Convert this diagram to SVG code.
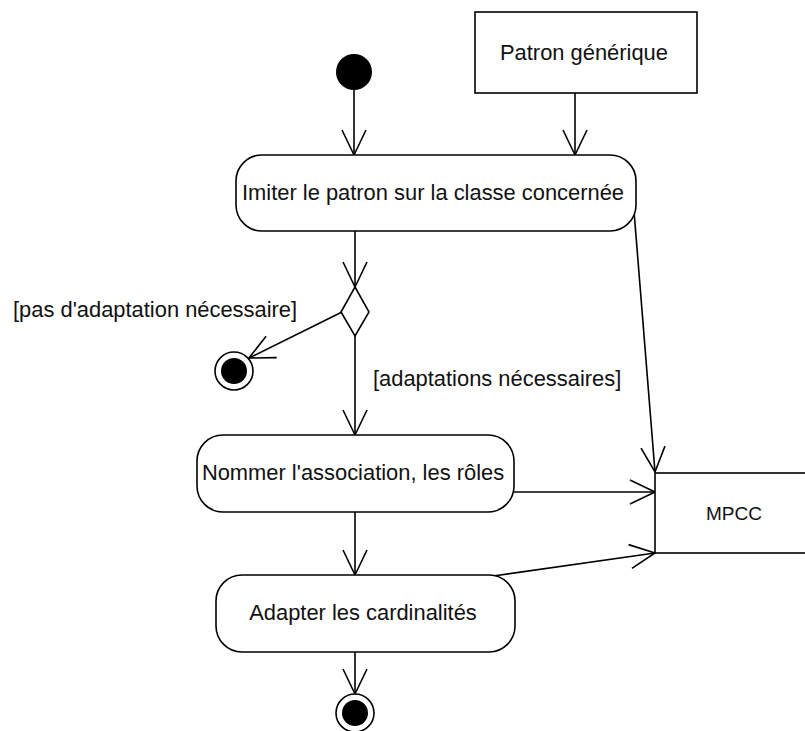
<svg xmlns="http://www.w3.org/2000/svg" width="805" height="731" viewBox="0 0 805 731">
<defs>
<style>
.box{fill:#fff;stroke:#000;stroke-width:1.6}
.lbl{font-family:"Liberation Sans",Arial,sans-serif;font-size:21.9px;fill:#111}
.c{fill:none;stroke:#000;stroke-width:1.6}
</style>
<marker id="arr" viewBox="-27 -15 29 30" markerWidth="29" markerHeight="30" refX="0" refY="0" orient="auto" markerUnits="userSpaceOnUse">
<path d="M-25,-12 L0,0 L-25,12" fill="none" stroke="#000" stroke-width="1.6"/>
</marker>
</defs>
<rect width="805" height="731" fill="#fff"/>
<g id="connectors">
<line class="c" x1="354" y1="90" x2="354" y2="155" marker-end="url(#arr)"/>
<line class="c" x1="575" y1="93" x2="575" y2="155" marker-end="url(#arr)"/>
<line class="c" x1="355" y1="231" x2="355" y2="287" marker-end="url(#arr)"/>
<line class="c" x1="342" y1="312" x2="249" y2="358" marker-end="url(#arr)"/>
<line class="c" x1="355" y1="336" x2="355" y2="435" marker-end="url(#arr)"/>
<line class="c" x1="355" y1="512" x2="355" y2="575" marker-end="url(#arr)"/>
<line class="c" x1="355" y1="652" x2="355" y2="694" marker-end="url(#arr)"/>
<line class="c" x1="634" y1="211" x2="655" y2="472" marker-end="url(#arr)"/>
<line class="c" x1="514" y1="492" x2="655" y2="492" marker-end="url(#arr)"/>
<line class="c" x1="493" y1="576" x2="655" y2="553" marker-end="url(#arr)"/>
</g>
<g id="initial"><circle cx="354" cy="72" r="18" fill="#000"/></g>
<g id="patron"><rect class="box" x="475" y="12" width="222" height="81"/><text class="lbl" x="584" y="60" text-anchor="middle">Patron générique</text></g>
<g id="imiter"><rect class="box" x="236" y="155" width="400" height="76" rx="26" ry="26"/><text class="lbl" x="433" y="200" text-anchor="middle">Imiter le patron sur la classe concernée</text></g>
<g id="decision"><path class="box" d="M355,287 L369,312 L355,336 L341,312 Z"/></g>
<g id="final1"><circle cx="234" cy="371" r="19" class="box"/><circle cx="234" cy="371" r="13" fill="#000"/></g>
<g id="guard1"><text class="lbl" x="13" y="317">[pas d'adaptation nécessaire]</text></g>
<g id="guard2"><text class="lbl" x="373" y="386">[adaptations nécessaires]</text></g>
<g id="nommer"><rect class="box" x="197" y="435" width="317" height="77" rx="26" ry="26"/><text class="lbl" x="353" y="480" text-anchor="middle">Nommer l'association, les rôles</text></g>
<g id="adapter"><rect class="box" x="216" y="575" width="299" height="77" rx="26" ry="26"/><text class="lbl" x="363" y="620" text-anchor="middle">Adapter les cardinalités</text></g>
<g id="final2"><circle cx="355" cy="713" r="19" class="box"/><circle cx="355" cy="713" r="13" fill="#000"/></g>
<g id="mpcc"><rect class="box" x="655" y="473" width="170" height="80"/><text class="lbl" x="734" y="520" text-anchor="middle" style="font-size:19px">MPCC</text></g>
</svg>
